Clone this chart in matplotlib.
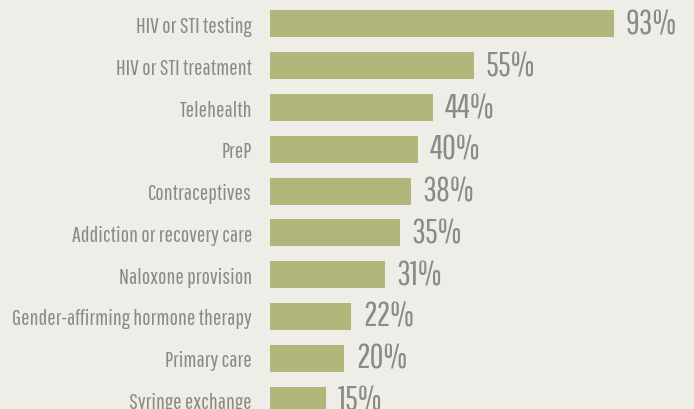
import matplotlib
matplotlib.use("Agg")
import matplotlib.pyplot as plt

# Data
services = [
    "HIV or STI testing",
    "HIV or STI treatment",
    "Telehealth",
    "PreP",
    "Contraceptives",
    "Addiction or recovery care",
    "Naloxone provision",
    "Gender-affirming hormone therapy",
    "Primary care",
    "Syringe exchange",
]
shares = [93, 55, 44, 40, 38, 35, 31, 22, 20, 15]

BG = "#efede7"
BAR = "#b1b67a"
TEXT = "#8b8b86"

plt.rcParams["font.family"] = ["Pathway Gothic One", "DejaVu Sans"]

W, H = 694, 410
fig = plt.figure(figsize=(W / 100, H / 100), dpi=100, facecolor=BG)
ax = fig.add_axes([270 / W, 0, 370 / W, 1])
ax.set_facecolor(BG)

step = 41.8
pos = list(range(len(services)))
ax.barh(pos, shares, height=27 / step, color=BAR, align="center")
ax.set_xlim(0, 100)
ax.set_ylim(9 + 9 / step, -25 / step)

# value labels right of each bar
for y, v in zip(pos, shares):
    ax.text(v + 12 / 3.7, y, f"{v}%", va="center", ha="left",
            fontsize=24.5, color=TEXT, clip_on=False)

ax.set_yticks(pos)
ax.set_yticklabels(services, fontsize=16, color=TEXT)
ax.tick_params(axis="y", length=0, pad=13)
ax.set_xticks([])
for s in ax.spines.values():
    s.set_visible(False)

fig.savefig("out.png", dpi=100, facecolor=BG)
